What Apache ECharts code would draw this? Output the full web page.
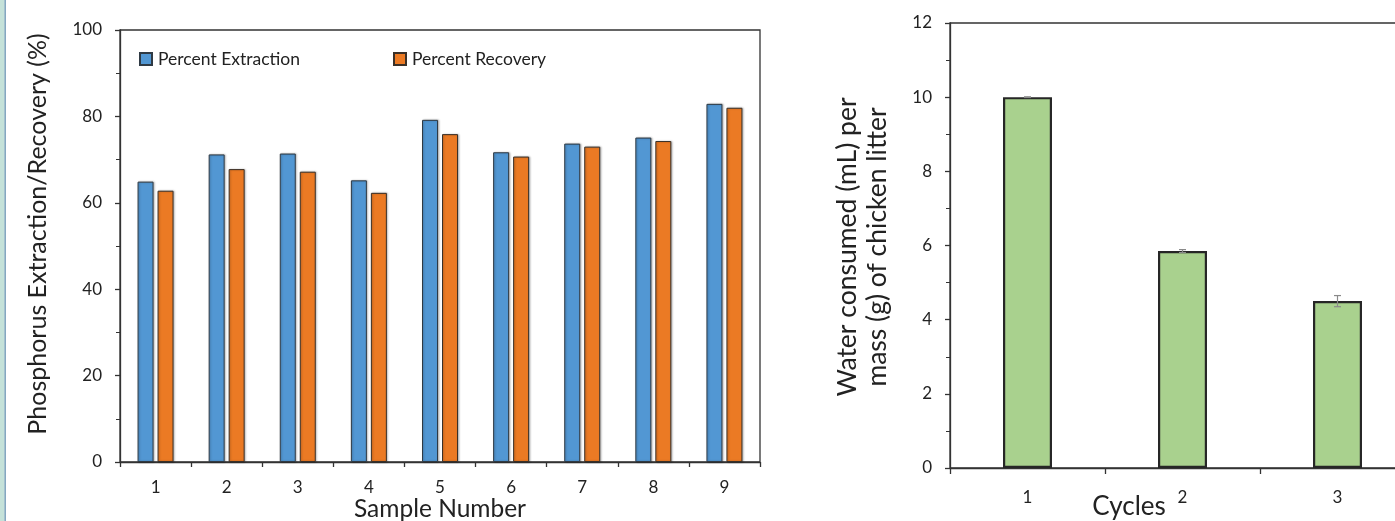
<!DOCTYPE html>
<html><head><meta charset="utf-8">
<script src="https://cdn.jsdelivr.net/npm/echarts@6/dist/echarts.min.js"></script>
<style>html,body{margin:0;padding:0;background:#fff}#c{width:1395px;height:521px}</style>
</head><body><div id="c"></div>
<script>
// ---- data ----
const samples = ['1','2','3','4','5','6','7','8','9'];
const extraction = [64.9, 71.2, 71.4, 65.2, 79.2, 71.7, 73.7, 75.1, 82.9];
const recovery   = [62.8, 67.8, 67.2, 62.3, 75.9, 70.7, 73.0, 74.3, 82.0];
const cycles = ['1','2','3'];
const water    = [10.0, 5.85, 4.5];
const waterErr = [0.01, 0.04, 0.15];
const seriesNames = ['Percent Extraction', 'Percent Recovery'];
const leftTitleY = 'Phosphorus Extraction/Recovery (%)';
const leftTitleX = 'Sample Number';
const rightTitleY = ['Water consumed (mL) per', 'mass (g) of chicken litter'];
const rightTitleX = 'Cycles';

const FONT = 'Lato';
const AX = '#333333';
const chart = echarts.init(document.getElementById('c'), null, {renderer: 'canvas'});

const axisCommonY = {
  axisLine: {show: true, lineStyle: {color: AX, width: 1.3}},
  axisTick: {show: true, inside: false, length: 5, lineStyle: {color: AX, width: 1.3}},
  minorTick: {show: true, splitNumber: 2, length: 4, lineStyle: {color: AX, width: 1}},
  splitLine: {show: false},
  axisLabel: {color: '#222', fontFamily: FONT, fontSize: 17, margin: 18}
};

const option = {
  animation: false,
  backgroundColor: '#ffffff',
  textStyle: {fontFamily: FONT},
  grid: [
    {left: 120, top: 30, width: 640, bottom: 59, show: true, borderColor: AX, borderWidth: 1.3,
     backgroundColor: 'transparent', outerBoundsMode: 'none', containLabel: false},
    {left: 950, top: 23, width: 465, bottom: 53, show: true, borderColor: AX, borderWidth: 1.3,
     backgroundColor: 'transparent', outerBoundsMode: 'none', containLabel: false}
  ],
  legend: [
    {data: [seriesNames[0]], left: 139, top: 50, itemWidth: 12, itemHeight: 12, icon: 'rect',
     textStyle: {fontFamily: FONT, fontSize: 17.5, color: '#222', padding: [0,0,0,1]}, itemGap: 0, padding: 0, selectedMode: false},
    {data: [seriesNames[1]], left: 393, top: 50, itemWidth: 12, itemHeight: 12, icon: 'rect',
     textStyle: {fontFamily: FONT, fontSize: 17.5, color: '#222', padding: [0,0,0,1]}, itemGap: 0, padding: 0, selectedMode: false}
  ],
  xAxis: [
    {type: 'category', gridIndex: 0, data: samples, boundaryGap: true,
     axisLine: {lineStyle: {color: AX, width: 1.3}},
     axisTick: {show: true, alignWithLabel: false, length: 5, lineStyle: {color: AX, width: 1.3}},
     axisLabel: {color: '#222', fontFamily: FONT, fontSize: 17, margin: 17}},
    {type: 'category', gridIndex: 1, data: cycles, boundaryGap: true,
     axisLine: {lineStyle: {color: AX, width: 1.3}},
     axisTick: {show: true, alignWithLabel: false, length: 6, lineStyle: {color: AX, width: 1.3}},
     axisLabel: {color: '#222', fontFamily: FONT, fontSize: 17, margin: 21}}
  ],
  yAxis: [
    Object.assign({type: 'value', gridIndex: 0, min: 0, max: 100, interval: 20}, axisCommonY),
    Object.assign({type: 'value', gridIndex: 1, min: 0, max: 12, interval: 2}, axisCommonY)
  ],
  series: [
    {name: seriesNames[0], type: 'bar', xAxisIndex: 0, yAxisIndex: 0, data: extraction,
     barWidth: '22.5%', barGap: '25%',
     itemStyle: {color: '#5297d3', borderColor: '#2f3a44', borderWidth: 1,
                 shadowColor: 'rgba(0,0,0,0.25)', shadowBlur: 2, shadowOffsetX: 1, shadowOffsetY: 0}},
    {name: seriesNames[1], type: 'bar', xAxisIndex: 0, yAxisIndex: 0, data: recovery,
     barWidth: '22.5%', barGap: '25%',
     itemStyle: {color: '#eb7a24', borderColor: '#3a3028', borderWidth: 1,
                 shadowColor: 'rgba(0,0,0,0.25)', shadowBlur: 2, shadowOffsetX: 1, shadowOffsetY: 0}},
    {name: 'Water', type: 'bar', xAxisIndex: 1, yAxisIndex: 1, data: water,
     barWidth: '31.6%',
     itemStyle: {color: '#a9d18e', borderColor: '#262626', borderWidth: 2.2}},
    {name: 'WaterErr', type: 'custom', xAxisIndex: 1, yAxisIndex: 1, z: 5,
     data: cycles.map((c, i) => [i, water[i], waterErr[i]]),
     renderItem: function (params, api) {
       const x = api.value(0), y = api.value(1), e = api.value(2);
       const hi = api.coord([x, y + e]);
       const lo = api.coord([x, y - e]);
       const cw = 3.5;
       const st = {stroke: '#8a8a8a', lineWidth: 1.2};
       return {type: 'group', children: [
         {type: 'line', shape: {x1: hi[0], y1: hi[1], x2: lo[0], y2: lo[1]}, style: st},
         {type: 'line', shape: {x1: hi[0] - cw, y1: hi[1], x2: hi[0] + cw, y2: hi[1]}, style: st},
         {type: 'line', shape: {x1: lo[0] - cw, y1: lo[1], x2: lo[0] + cw, y2: lo[1]}, style: st}
       ]};
     }}
  ],
  graphic: [
    {type: 'rect', left: 0, top: 0, shape: {width: 4.5, height: 521}, style: {fill: '#c5e2d9'}},
    {type: 'rect', left: 4.5, top: 0, shape: {width: 1.3, height: 521}, style: {fill: '#6692b0'}},
    {type: 'text', x: 38, y: 234, rotation: Math.PI / 2,
     style: {text: leftTitleY, fill: '#222', font: '25px ' + FONT, textAlign: 'center', textVerticalAlign: 'middle'}},
    {type: 'text', x: 440, y: 509,
     style: {text: leftTitleX, fill: '#222', font: '24.5px ' + FONT, textAlign: 'center', textVerticalAlign: 'middle'}},
    {type: 'text', x: 847, y: 247, rotation: Math.PI / 2,
     style: {text: rightTitleY[0], fill: '#222', font: '26.5px ' + FONT, textAlign: 'center', textVerticalAlign: 'middle'}},
    {type: 'text', x: 877, y: 247, rotation: Math.PI / 2,
     style: {text: rightTitleY[1], fill: '#222', font: '26.5px ' + FONT, textAlign: 'center', textVerticalAlign: 'middle'}},
    {type: 'text', x: 1129, y: 507,
     style: {text: rightTitleX, fill: '#222', font: '26px ' + FONT, textAlign: 'center', textVerticalAlign: 'middle'}}
  ]
};
chart.setOption(option);
</script>
</body></html>
